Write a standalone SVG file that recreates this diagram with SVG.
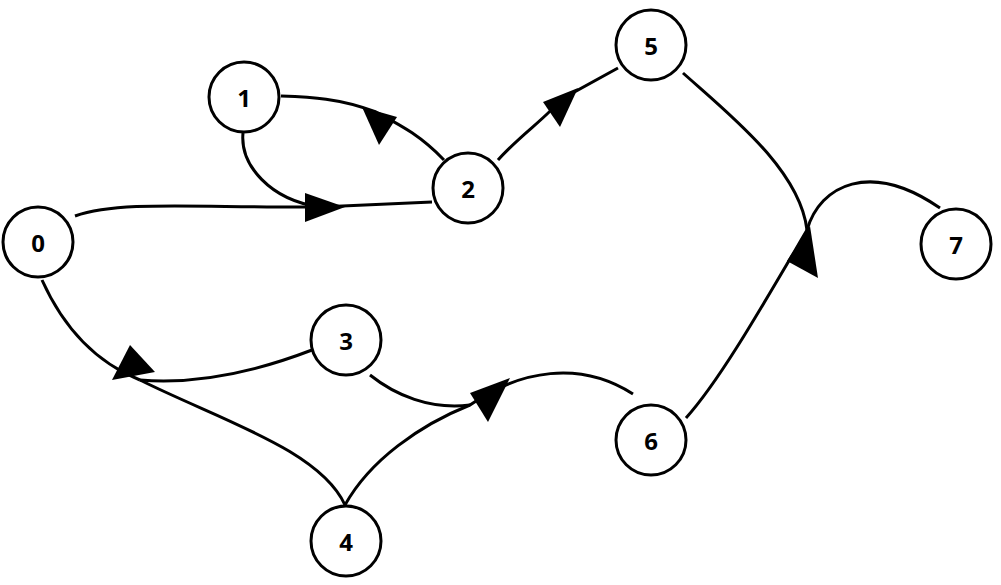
<svg xmlns="http://www.w3.org/2000/svg" width="1001" height="585" viewBox="0 0 1001 585">
<style>
.n circle{fill:#fff;stroke:#000;stroke-width:3}
.n text{font-family:"Open Sans","Liberation Sans",sans-serif;font-weight:bold;font-size:24px;text-anchor:middle;dominant-baseline:central}
.e path{fill:none;stroke:#000;stroke-width:3}
.e polygon{fill:#000}
</style>
<rect width="1001" height="585" fill="#fff"/>
<g class="e">
<path d="M75,216 C120,200 200,208 320,207 L432,202"/>
<path d="M243,133 C240,165 270,200 320,207"/>
<polygon points="345,207 305,193 305,222"/>
<path d="M444,160 C420,135 400,125 376,112 C340,98 310,97 281,96"/>
<polygon points="362,107 397,117 379,145"/>
<path d="M498,160 C520,135 550,115 560,100 L618,68"/>
<polygon points="578,88 543,102 560,127"/>
<path d="M42,280 C60,320 90,360 140,380"/>
<path d="M140,380 C200,385 260,370 312,350"/>
<path d="M140,380 C220,420 320,450 345,505"/>
<polygon points="112,380 155,372 130,345"/>
<path d="M370,375 C395,395 430,410 470,405"/>
<path d="M345,505 C370,460 420,425 470,405 C520,370 580,360 633,394"/>
<polygon points="510,378 470,393 488,422"/>
<path d="M683,73 C730,115 800,170 807,230"/>
<path d="M686,418 C720,380 760,310 807,230 C820,185 870,160 940,208"/>
<polygon points="810,226 787,261 818,278"/>
</g>
<g id="node0" class="n"><circle cx="38" cy="242" r="35"/><text x="38" y="242">0</text></g>
<g id="node1" class="n"><circle cx="244" cy="97" r="35"/><text x="244" y="97">1</text></g>
<g id="node2" class="n"><circle cx="468" cy="188" r="35"/><text x="468" y="188">2</text></g>
<g id="node3" class="n"><circle cx="346" cy="340" r="35"/><text x="346" y="340">3</text></g>
<g id="node4" class="n"><circle cx="346" cy="541" r="35"/><text x="346" y="541">4</text></g>
<g id="node5" class="n"><circle cx="651" cy="45" r="35"/><text x="651" y="45">5</text></g>
<g id="node6" class="n"><circle cx="651" cy="440" r="35"/><text x="651" y="440">6</text></g>
<g id="node7" class="n"><circle cx="956" cy="244" r="35"/><text x="956" y="244">7</text></g>
</svg>
